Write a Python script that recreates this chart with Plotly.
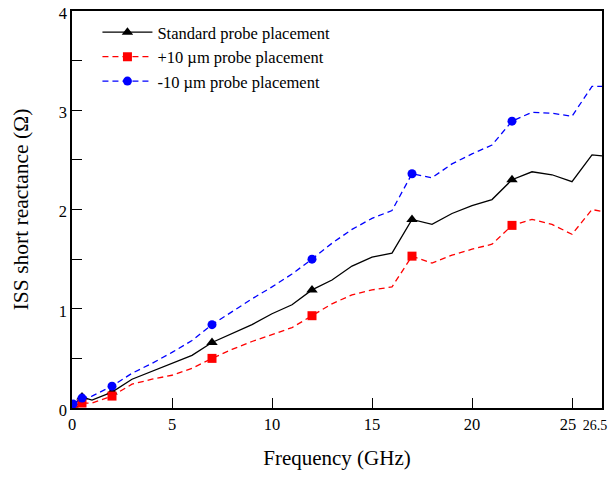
import plotly.graph_objects as go

# frequency points (GHz) and reactance (ohm)
freq = [0.05, 0.5, 1, 2, 3, 4, 5, 6, 7, 8, 9, 10, 11, 12, 13, 14, 15, 16,
        17, 18, 19, 20, 21, 22, 23, 24, 25, 26, 26.5]
standard = [0.03, 0.11, 0.08, 0.16, 0.29, 0.37, 0.45, 0.53, 0.66, 0.75, 0.84, 0.95,
            1.04, 1.19, 1.29, 1.43, 1.52, 1.56, 1.90, 1.85, 1.96, 2.04, 2.10, 2.30,
            2.38, 2.35, 2.28, 2.55, 2.54]
plus10 = [0.02, 0.05, 0.05, 0.12, 0.24, 0.29, 0.33, 0.40, 0.50, 0.59, 0.67, 0.74,
          0.81, 0.93, 1.05, 1.14, 1.19, 1.22, 1.53, 1.46, 1.54, 1.60, 1.65, 1.84,
          1.90, 1.85, 1.75, 2.00, 1.98]
minus10 = [0.04, 0.10, 0.12, 0.22, 0.35, 0.45, 0.56, 0.68, 0.84, 0.97, 1.10, 1.22,
           1.35, 1.50, 1.66, 1.80, 1.91, 1.99, 2.36, 2.32, 2.46, 2.56, 2.65, 2.89,
           2.98, 2.97, 2.94, 3.24, 3.24]

# frequencies where a symbol is drawn
marker_freq = [0.05, 0.5, 2, 7, 12, 17, 22]

x_ticks = [0, 5, 10, 15, 20, 25, 26.5]
# the last two labels are padded on the right so "26.5" stays inside the
# window edge without running into "25"
x_ticktext = ["0", "5", "10", "15", "20", "25\u2002",
              '<span style="font-size:14px">26.5\u2003</span>']

FONT = "Liberation Serif"

SERIES = [
    ("Standard probe placement", standard, "black", "solid", "triangle-up", 10),
    ("+10 \u00b5m probe placement", plus10, "#ff0000", "6px,4px", "square", 9),
    ("-10 \u00b5m probe placement", minus10, "#0000ff", "6px,4px", "circle", 9),
]


def marker_points(values):
    # isolated points (None in between) so no connecting line is drawn,
    # but the legend still shows line + symbol
    xs, ys = [], []
    for f, v in zip(freq, values):
        if f in marker_freq:
            xs += [f, None]
            ys += [v, None]
    return xs, ys


fig = go.Figure()
for name, values, color, dash, symbol, size in SERIES:
    fig.add_trace(go.Scatter(
        x=freq, y=values, mode="lines", showlegend=False,
        line=dict(color=color, width=1.3, dash=dash),
        legendgroup=name,
    ))
    mx, my = marker_points(values)
    fig.add_trace(go.Scatter(
        x=mx, y=my, mode="lines+markers", name=name, legendgroup=name,
        connectgaps=False,
        line=dict(color=color, width=1.3, dash=dash),
        marker=dict(color=color, symbol=symbol, size=size, line=dict(width=0)),
    ))

axis_common = dict(
    showline=True, linecolor="black", linewidth=1.6, mirror=True,
    ticks="inside", ticklen=10, tickwidth=1.3, tickcolor="black",
    showgrid=False, zeroline=False, automargin=False,
    ticklabeloverflow="allow", tickangle=0,
    tickfont=dict(family=FONT, size=16.5, color="black"),
)

# page body has an 8px margin; the figure is kept small enough that the
# page does not scroll, and offset so the plot area matches the reference
fig.update_layout(
    width=608, height=462,
    margin=dict(l=64, r=14, t=3, b=62),
    plot_bgcolor="white", paper_bgcolor="white",
    font=dict(family=FONT, color="black"),
    xaxis=dict(
        range=[0, 26.5], tickvals=x_ticks, ticktext=x_ticktext,
        title=dict(text="Frequency (GHz)", font=dict(family=FONT, size=21), standoff=19),
        **axis_common,
    ),
    yaxis=dict(
        range=[0, 4], dtick=1, tick0=0, ticklabelshift=2,
        minor=dict(dtick=0.5, ticks="inside", ticklen=10, tickwidth=1.3, tickcolor="black"),
        title=dict(text="ISS short reactance (\u03a9)", font=dict(family=FONT, size=21.5), standoff=24),
        **axis_common,
    ),
    legend=dict(
        x=0.048, y=0.99, xanchor="left", yanchor="top",
        bgcolor="rgba(0,0,0,0)", borderwidth=0,
        font=dict(family=FONT, size=16.5, color="black"),
        itemwidth=50, tracegroupgap=0,
    ),
)

fig.write_html("out.html")
